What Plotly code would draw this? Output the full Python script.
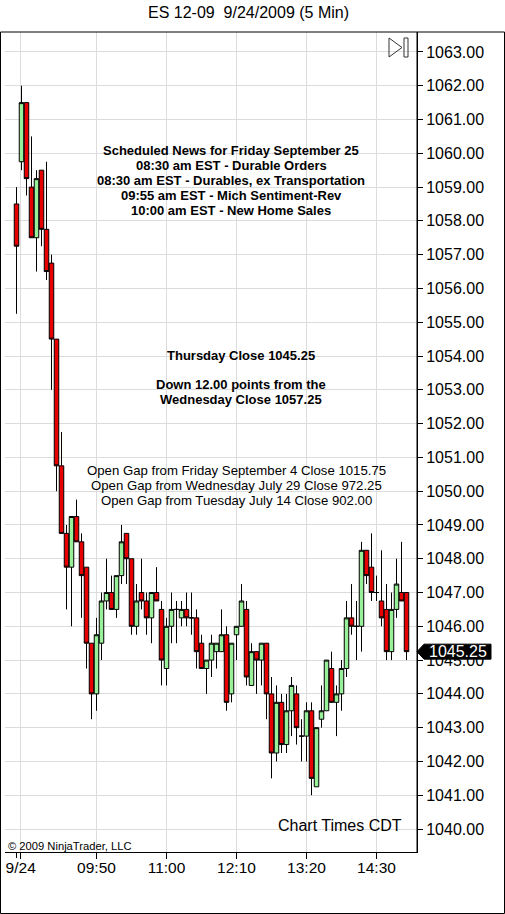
import plotly.graph_objects as go

# ---------------- data ----------------
bar_times = ["9/23 15:15"] + [f"{(8*60+35+5*k)//60:02d}:{(8*60+35+5*k)%60:02d}" for k in range(78)]

opens = [1058.5, 1059.75, 1061.5, 1059, 1057.5, 1059.5, 1057.75, 1056.75, 1054.5, 1050.75,
         1048.75, 1047.75, 1049.25, 1048.5, 1047.75, 1045.5, 1044, 1045.5, 1046.75, 1047,
         1046.5, 1047.5, 1048.75, 1048, 1046, 1047, 1046.75, 1046.25, 1047, 1046.5,
         1044.75, 1046, 1046.5, 1046.25, 1046.5, 1046.25, 1046.25, 1045.5, 1044.75, 1045,
         1045.25, 1045.25, 1045.75, 1044, 1045.75, 1046, 1046.5, 1044.25, 1045.25, 1045,
         1045.5, 1044, 1042.25, 1043.75, 1042.5, 1043.5, 1044, 1042.75, 1042.75, 1043.5,
         1041.25, 1043.25, 1043.5, 1044.75, 1043.75, 1044, 1044.75, 1046.25, 1046, 1046,
         1048.25, 1047.75, 1047, 1046.75, 1046.5, 1045.25, 1046.5, 1047, 1047]
highs = [1059, 1062, 1061.5, 1060.5, 1059.5, 1059.5, 1059.75, 1057, 1054.5, 1051.75,
         1049, 1049.25, 1049.75, 1048.75, 1047.75, 1045.5, 1046.25, 1047, 1048, 1047.5,
         1047.5, 1049, 1048.75, 1048, 1047.25, 1048, 1047, 1047, 1047.75, 1046.75,
         1046.25, 1047, 1046.75, 1046.75, 1047, 1047, 1046.5, 1045.75, 1045, 1045.75,
         1045.5, 1046.5, 1046, 1045.5, 1046, 1047.25, 1046.75, 1045.5, 1045.25, 1045.5,
         1045.5, 1044.5, 1044.25, 1044, 1044, 1044.5, 1044.25, 1043.25, 1043.75, 1043.75,
         1043, 1044.25, 1045, 1045.25, 1044.25, 1045, 1046.75, 1047.25, 1046.75, 1048.5,
         1048.25, 1048.75, 1047.5, 1048.25, 1047.25, 1047, 1048, 1048.5, 1047]
lows = [1055.25, 1059.5, 1058.75, 1057.5, 1056.5, 1057.25, 1056.25, 1053, 1050, 1048.75,
        1046.5, 1046, 1048.5, 1046.25, 1044.75, 1043.25, 1043.5, 1045, 1046.5, 1046.5,
        1046.25, 1047.25, 1047.25, 1045.75, 1045.75, 1046.5, 1045.75, 1045.5, 1046.75, 1044.25,
        1044.25, 1045.5, 1045.5, 1046, 1046, 1045.75, 1044.75, 1044.75, 1044, 1044.5,
        1044.75, 1045.25, 1043.5, 1043.75, 1045, 1046, 1044.25, 1044.25, 1044, 1044.25,
        1043.25, 1041.5, 1042, 1042.25, 1042.25, 1042.75, 1042.5, 1042, 1042, 1041,
        1041.25, 1043, 1043.5, 1043.75, 1042.75, 1043.5, 1044.5, 1045.75, 1045, 1045.25,
        1047.25, 1046.75, 1046.75, 1046, 1045, 1045, 1046.25, 1046.75, 1045]
closes = [1057.25, 1061.5, 1059.25, 1057.5, 1059.25, 1057.75, 1056.5, 1054.5, 1050.75, 1048.75,
          1047.75, 1049.25, 1048.5, 1047.5, 1045.5, 1044, 1045.75, 1046.75, 1047, 1046.5,
          1047.5, 1048.5, 1048, 1046, 1046.75, 1046.75, 1046.25, 1047, 1046.75, 1045,
          1046, 1046.5, 1046.5, 1046.5, 1046.25, 1046.25, 1045.25, 1044.75, 1045, 1045.5,
          1045.5, 1045.75, 1043.75, 1045.5, 1046, 1046.75, 1044.5, 1045.25, 1045, 1045.5,
          1044, 1042.25, 1043.75, 1042.5, 1043.5, 1044.25, 1043, 1042.75, 1043.5, 1041.5,
          1043, 1043.5, 1045, 1043.75, 1044, 1044.75, 1046.25, 1046, 1046, 1048.25,
          1047.5, 1047, 1047, 1046.25, 1045.25, 1046.5, 1047.25, 1046.75, 1045.25]

x_tick_pos = [0.84, 16, 30, 44, 58, 72]
x_tick_text = ["9/24", "09:50", "11:00", "12:10", "13:20", "14:30"]

news_lines = ["Scheduled News for Friday September 25",
              "08:30 am EST - Durable Orders",
              "08:30 am EST - Durables, ex Transportation",
              "09:55 am EST - Mich Sentiment-Rev",
              "10:00 am EST - New Home Sales"]
close_lines = ["Thursday Close 1045.25", "Down 12.00 points from the", "Wednesday Close 1057.25"]
gap_lines = ["Open Gap from Friday September 4 Close 1015.75",
             "Open Gap from Wednesday July 29 Close 972.25",
             "Open Gap from Tuesday July 14 Close 902.00"]

# ---------------- layout geometry ----------------
W, H = 505, 914
PL, PR, PT, PB = 5, 417, 32, 852
Y_LO, Y_HI = 1039.32, 1063.59
X_LO, X_HI = -2.3, 80.1
FONT = "Liberation Sans, Arial, sans-serif"


def xp(px):
    return (px - PL) / (PR - PL)


def yp(py):
    return (PB - py) / (PB - PT)


idx = list(range(len(opens)))

fig = go.Figure()
fig.add_trace(go.Candlestick(
    x=idx, open=opens, high=highs, low=lows, close=closes,
    text=bar_times, hoverinfo="text+y",
    increasing=dict(line=dict(color="black", width=1), fillcolor="#98F098"),
    decreasing=dict(line=dict(color="black", width=1), fillcolor="#E80000"),
    whiskerwidth=0, showlegend=False,
))

annotations = []
# title
annotations.append(dict(text="ES 12-09&nbsp;&nbsp;9/24/2009 (5 Min)", xref="paper", yref="paper",
                        x=xp(249), y=yp(13), xanchor="center", yanchor="middle", showarrow=False,
                        font=dict(family=FONT, size=16, color="black")))
news_y = [150.5, 165.5, 180.5, 195.5, 210.5]
for t, py in zip(news_lines, news_y):
    annotations.append(dict(text=f"<b>{t}</b>", xref="paper", yref="paper", x=xp(231), y=yp(py),
                            xanchor="center", yanchor="middle", showarrow=False,
                            font=dict(family=FONT, size=13, color="black")))
for t, py in zip(close_lines, [355, 384.5, 399.5]):
    annotations.append(dict(text=f"<b>{t}</b>", xref="paper", yref="paper", x=xp(241), y=yp(py),
                            xanchor="center", yanchor="middle", showarrow=False,
                            font=dict(family=FONT, size=13, color="black")))
for t, py in zip(gap_lines, [470.5, 485.5, 500.5]):
    annotations.append(dict(text=t, xref="paper", yref="paper", x=xp(236), y=yp(py),
                            xanchor="center", yanchor="middle", showarrow=False,
                            font=dict(family=FONT, size=13.2, color="black")))
annotations.append(dict(text="Chart Times CDT", xref="paper", yref="paper", x=xp(404), y=yp(825),
                        xanchor="right", yanchor="middle", showarrow=False,
                        font=dict(family=FONT, size=16, color="black")))
annotations.append(dict(text="© 2009 NinjaTrader, LLC", xref="paper", yref="paper", x=xp(6), y=yp(846),
                        xanchor="left", yanchor="middle", showarrow=False,
                        font=dict(family=FONT, size=11.2, color="black")))
# last price label
last = closes[-1]
annotations.append(dict(text=f"{last:.2f}", xref="paper", yref="y", x=xp(489), y=last,
                        xanchor="right", yanchor="middle", showarrow=False,
                        font=dict(family=FONT, size=16, color="white")))

ppx = (PB - PT) / (Y_HI - Y_LO)  # pixels per point
half = 7.5 / ppx
shapes = []
# price marker box with pointer
shapes.append(dict(type="path", xref="paper", yref="y", layer="above",
                   path=(f"M {xp(417)},{last} L {xp(424)},{last + half} L {xp(491)},{last + half} "
                         f"L {xp(491)},{last - half} L {xp(424)},{last - half} Z"),
                   fillcolor="black", line=dict(color="black", width=1)))
# outer frame
shapes.append(dict(type="rect", xref="paper", yref="paper", x0=xp(0.5), x1=xp(504.5),
                   y0=yp(913.5), y1=yp(32), line=dict(color="black", width=1), layer="above"))
# right axis line full height
shapes.append(dict(type="line", xref="paper", yref="paper", x0=1, x1=1, y0=0, y1=1,
                   line=dict(color="black", width=1), layer="above"))
# extra date tick
shapes.append(dict(type="line", xref="x", yref="paper", x0=0, x1=0, y0=0, y1=yp(858),
                   line=dict(color="black", width=1)))
# "go to end" icon
shapes.append(dict(type="path", xref="paper", yref="paper",
                   path=f"M {xp(389)},{yp(38)} L {xp(402)},{yp(47.5)} L {xp(389)},{yp(57)} Z",
                   line=dict(color="#333333", width=1), fillcolor="rgba(0,0,0,0)"))
shapes.append(dict(type="rect", xref="paper", yref="paper", x0=xp(404), x1=xp(408),
                   y0=yp(57), y1=yp(38), line=dict(color="#333333", width=1)))

fig.update_layout(
    width=W, height=H,
    margin=dict(l=PL, r=W - PR, t=PT, b=H - PB),
    paper_bgcolor="white", plot_bgcolor="white",
    boxgap=0.1, boxgroupgap=0,
    font=dict(family=FONT, size=15, color="black"),
    annotations=annotations, shapes=shapes,
    showlegend=False,
    xaxis=dict(range=[X_LO, X_HI], tickmode="array", tickvals=x_tick_pos, ticktext=x_tick_text,
               showgrid=True, gridcolor="#DCDCDC", gridwidth=1, zeroline=False,
               showline=True, linecolor="black", linewidth=1,
               ticks="outside", ticklen=6, tickcolor="black", ticklabelstandoff=-5,
               tickfont=dict(family=FONT, size=15.5, color="black"),
               rangeslider=dict(visible=False), fixedrange=True),
    yaxis=dict(range=[Y_LO, Y_HI], side="right", dtick=1, tick0=1040, tickformat=".2f",
               showgrid=True, gridcolor="#DCDCDC", gridwidth=1, zeroline=False,
               showline=True, linecolor="black", linewidth=1,
               ticks="outside", ticklen=5, tickcolor="black",
               tickfont=dict(family=FONT, size=16, color="black"), fixedrange=True),
)

fig.write_html("out.html")
